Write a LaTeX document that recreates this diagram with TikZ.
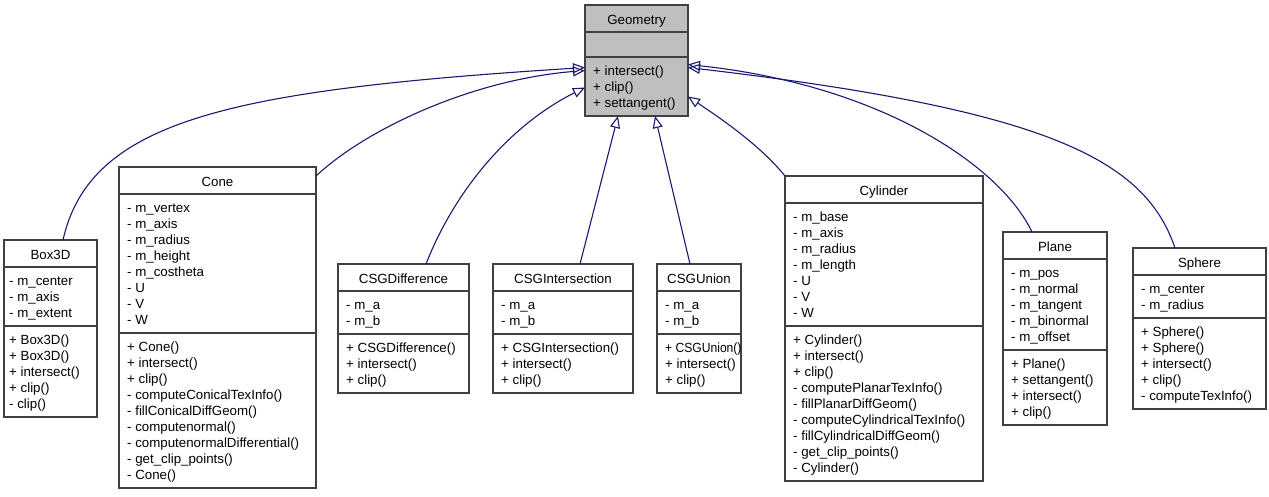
\documentclass[tikz,border=0pt]{standalone}
\usepackage{graphicx}
\usepackage{fontspec}
\setmainfont{Liberation Sans}
\usetikzlibrary{arrows.meta}
\definecolor{edgeblue}{RGB}{25,25,112}
\definecolor{basefill}{RGB}{191,191,191}

\tikzset{
  classbox/.style={draw=black!75, line width=1.2pt, fill=white, inner sep=0pt, outer sep=0pt},
  sepline/.style={draw=black!75, line width=1.2pt},
  member/.style={anchor=base west, inner sep=0pt},
  classtitle/.style={anchor=base, inner sep=0pt},
  inherit/.style={draw=edgeblue, line width=1.1pt, -{Triangle[open, length=12pt, width=10pt]}},
}

% left padding of the member lists
\def\ucPad{8}

% #1 name, #2 left, #3 top, #4 right, #5 title,
% #6 number of attributes, #7 attributes, #8 number of operations, #9 operations
\newcommand\umlclass[9]{%
  \pgfmathsetmacro\ucSepA{#3+27}%
  \pgfmathsetmacro\ucSepB{\ucSepA+max(16*#6+11,25)}%
  \pgfmathsetmacro\ucBot{\ucSepB+16*#8+11}%
  \pgfmathsetmacro\ucW{#4-#2}%
  \pgfmathsetmacro\ucH{\ucBot-#3}%
  \node[classbox, minimum width=\ucW pt, minimum height=\ucH pt, anchor=north west] (#1) at (#2,#3) {};
  \node[classtitle] (#1-title) at ({(#2+#4)/2},#3+19) {#5};
  \draw[sepline] (#2,\ucSepA) -- (#4,\ucSepA);
  \draw[sepline] (#2,\ucSepB) -- (#4,\ucSepB);
  \ifnum#6>0
    \foreach \txt [count=\i] in {#7}
      \node[member] (#1-a\i) at (#2+\ucPad,\ucSepA+18.5+16*\i-16) {\txt};
  \fi
  \foreach \txt [count=\i] in {#9}
    \node[member] (#1-m\i) at (#2+\ucPad,\ucSepB+18.5+16*\i-16) {\txt};
}

\begin{document}
\begin{tikzpicture}[x=1pt, y=-1pt, font=\fontsize{13.3}{16}\selectfont]
\useasboundingbox (0,0) rectangle (1269,496);

% base class
\begin{scope}[classbox/.append style={fill=basefill}]
\umlclass{geo}{585}{5}{688}{Geometry}{0}{}{3}{+ intersect(), + clip(), + settangent()}
\end{scope}

% derived classes
\def\ucPad{5}
\umlclass{box3d}{4}{240}{97}{Box3D}
  {3}{- m\_center, - m\_axis, - m\_extent}
  {5}{+ Box3D(), + Box3D(), + intersect(), + clip(), - clip()}
\def\ucPad{8}
\umlclass{cone}{119}{167}{316}{Cone}
  {8}{- m\_vertex, - m\_axis, - m\_radius, - m\_height, - m\_costheta, - U, - V, - W}
  {9}{+ Cone(), + intersect(), + clip(), - computeConicalTexInfo(), - fillConicalDiffGeom(), - computenormal(), - computenormalDifferential(), - get\_clip\_points(), - Cone()}
\umlclass{csgdiff}{338}{264}{469}{CSGDifference}
  {2}{- m\_a, - m\_b}
  {3}{+ CSGDifference(), + intersect(), + clip()}
\umlclass{csginter}{493}{264}{633}{CSGIntersection}
  {2}{- m\_a, - m\_b}
  {3}{+ CSGIntersection(), + intersect(), + clip()}
\umlclass{csgunion}{657}{264}{741}{CSGUnion}
  {2}{- m\_a, - m\_b}
  {3}{\scalebox{0.91}[1]{+ CSGUnion()}, + intersect(), + clip()}
\umlclass{cylinder}{785}{176}{983}{Cylinder}
  {7}{- m\_base, - m\_axis, - m\_radius, - m\_length, - U, - V, - W}
  {9}{+ Cylinder(), + intersect(), + clip(), - computePlanarTexInfo(), - fillPlanarDiffGeom(), - computeCylindricalTexInfo(), - fillCylindricalDiffGeom(), - get\_clip\_points(), - Cylinder()}
\umlclass{plane}{1003}{232}{1107}{Plane}
  {5}{- m\_pos, - m\_normal, - m\_tangent, - m\_binormal, - m\_offset}
  {4}{+ Plane(), + settangent(), + intersect(), + clip()}
\umlclass{sphere}{1133}{248}{1266}{Sphere}
  {2}{- m\_center, - m\_radius}
  {5}{+ Sphere(), + Sphere(), + intersect(), + clip(), - computeTexInfo()}

% generalisation arrows
\draw[inherit] ([xshift=12.5pt]box3d.north) .. controls (90,120) and (230,90) .. ([yshift=-7pt]geo.west);
\draw[inherit] ([yshift=-9pt]cone.north east) .. controls (365,130) and (470,80) .. ([yshift=-10pt]geo.west);
\draw[inherit] ([xshift=22.5pt]csgdiff.north) .. controls (455,190) and (510,125) .. ([yshift=-27pt]geo.west);
\draw[inherit] ([xshift=17pt]csginter.north) -- ([xshift=-18.5pt]geo.south);
\draw[inherit] ([xshift=-9pt]csgunion.north) -- ([xshift=18.5pt]geo.south);
\draw[inherit] (cylinder.north west) .. controls (760,145) and (720,118) .. ([yshift=-36pt]geo.east);
\draw[inherit] ([xshift=-23pt]plane.north) .. controls (1000,165) and (880,85) .. ([yshift=-4pt]geo.east);
\draw[inherit] ([xshift=-24.5pt]sphere.north) .. controls (1145,160) and (1050,110) .. ([yshift=-7pt]geo.east);
\end{tikzpicture}
\end{document}
